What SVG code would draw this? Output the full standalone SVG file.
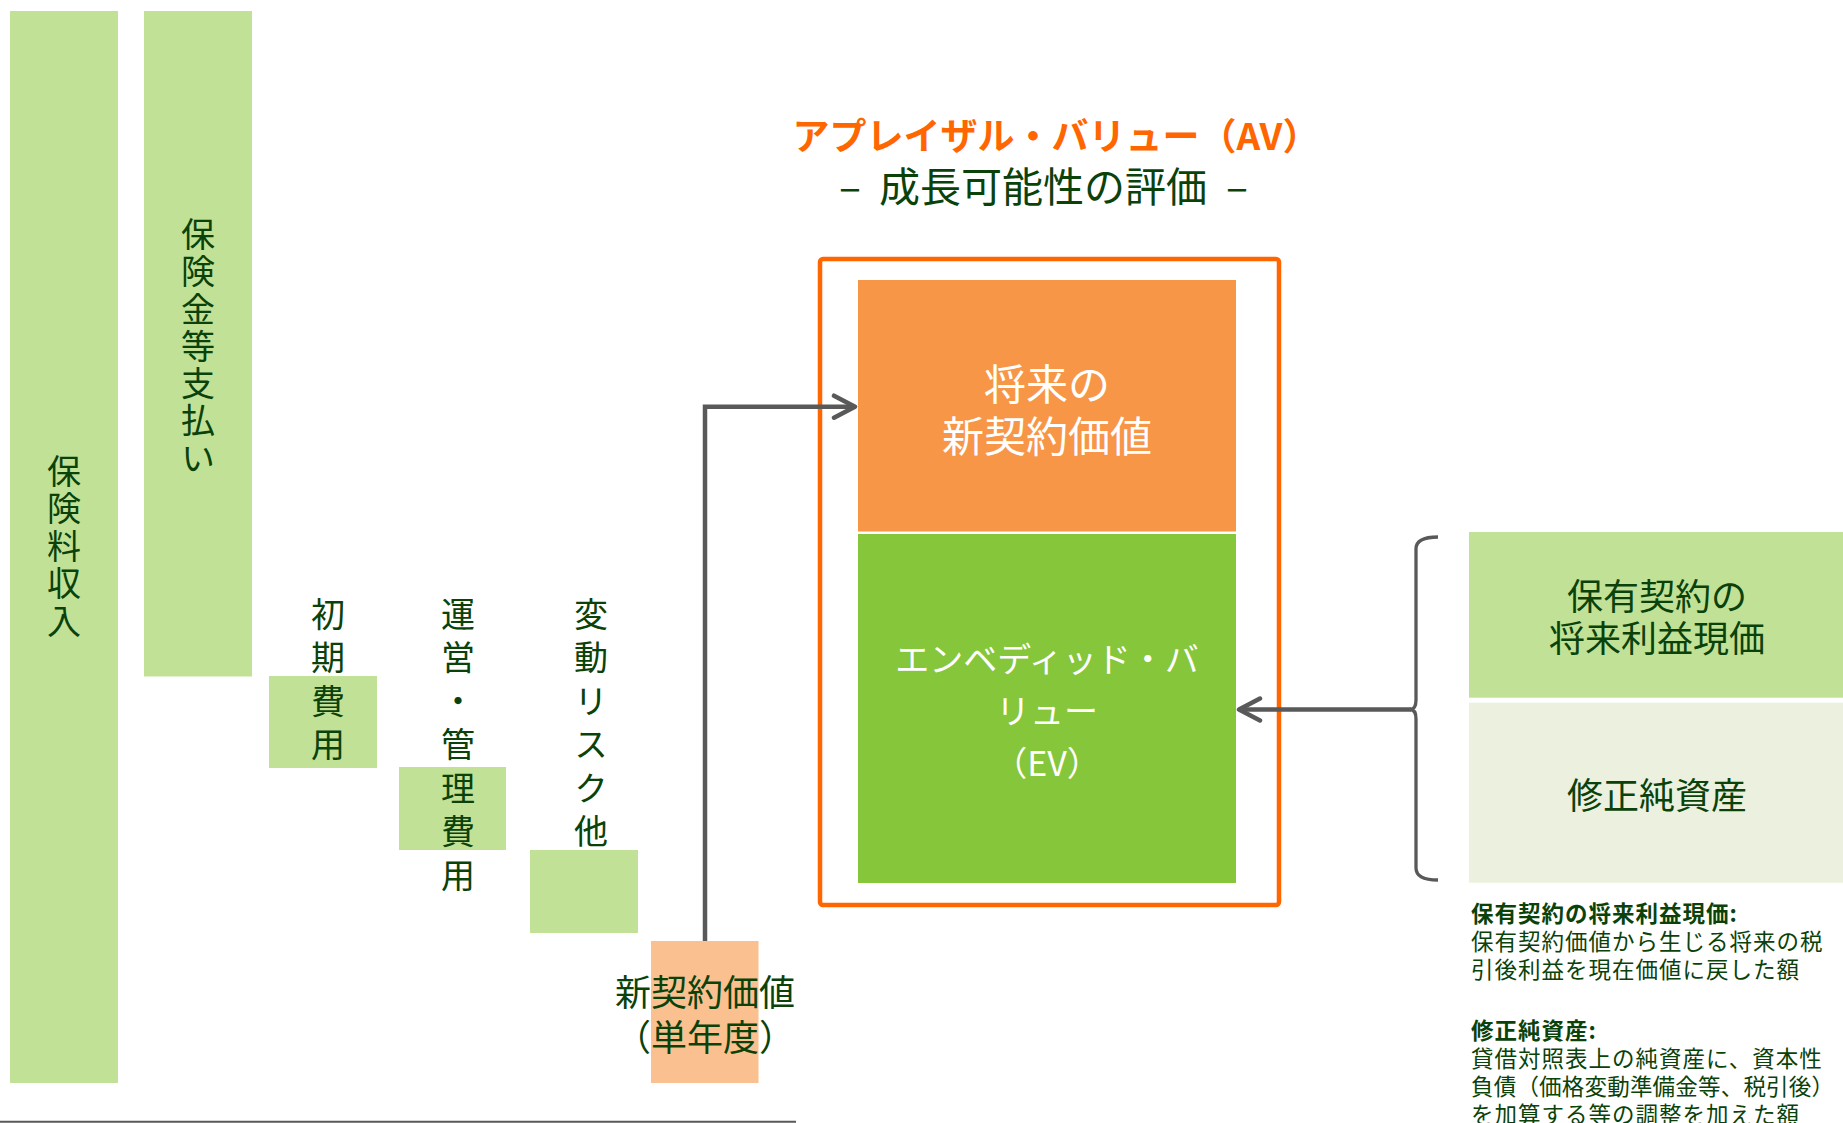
<svg xmlns="http://www.w3.org/2000/svg" width="1843" height="1123" viewBox="0 0 1843 1123">
<style>
.t{font-family:"Noto Sans CJK JP","Noto Sans",sans-serif;fill:#0A420A}
.vt{font-size:34px;writing-mode:vertical-rl;text-anchor:start}
.w{fill:#FFFFFF}
.c{text-anchor:middle}
.lg{fill:#C0E196}
.cn{fill:none;stroke:#595959;stroke-width:4.5}
</style>
<defs>
<marker id="ah" markerUnits="userSpaceOnUse" markerWidth="30" markerHeight="30" refX="24" refY="14" orient="auto">
<path d="M3,3 L24,14 L3,25" fill="none" stroke="#595959" stroke-width="4.5" stroke-linecap="round" stroke-linejoin="round"/>
</marker>
</defs>
<rect width="1843" height="1123" fill="#FFFFFF"/>

<g id="premium">
<rect class="lg" x="10" y="11" width="108" height="1072"/>
<text class="t vt" x="64" y="454" letter-spacing="3.5">保険料収入</text>
</g>

<g id="claims">
<rect class="lg" x="144" y="11" width="108" height="665.5"/>
<text class="t vt" x="198" y="217" letter-spacing="3.3">保険金等支払い</text>
</g>

<g id="initial-cost">
<rect class="lg" x="269" y="676" width="108" height="92"/>
<text class="t vt" x="328" y="597" letter-spacing="9.5">初期費用</text>
</g>

<g id="admin-cost">
<rect class="lg" x="399" y="767" width="107" height="83"/>
<text class="t vt" x="458" y="597" letter-spacing="9.5">運営・管理費用</text>
</g>

<g id="risk">
<rect class="lg" x="530" y="850" width="108" height="83"/>
<text class="t vt" x="591" y="597" letter-spacing="9.5">変動リスク他</text>
</g>

<g id="new-business-value">
<rect x="651" y="941" width="107.5" height="142" fill="#FAC090"/>
<text class="t c" font-size="36"><tspan x="705" y="1006">新契約価値</tspan><tspan x="705" y="1051">（単年度）</tspan></text>
</g>

<g id="baseline">
<line x1="0" y1="1121.8" x2="796" y2="1121.8" stroke="#595959" stroke-width="2"/>
</g>

<g id="title">
<text class="c" x="1056" y="150" font-size="37" font-weight="bold" fill="#FF6600" font-family="'Noto Sans CJK JP','Noto Sans',sans-serif">アプレイザル・バリュー（AV）</text>
<text class="t" font-size="41"><tspan x="850" y="201.5" text-anchor="middle">–</tspan><tspan x="1043" y="201.5" text-anchor="middle">成長可能性の評価</tspan><tspan x="1237" y="201.5" text-anchor="middle">–</tspan></text>
</g>

<g id="av-frame">
<rect x="820" y="259" width="459" height="646" rx="3" fill="none" stroke="#FF6600" stroke-width="4.5"/>
</g>

<g id="future-nbv">
<rect x="858" y="280" width="378" height="251.5" fill="#F79646"/>
<text class="t w c" font-size="42"><tspan x="1047" y="400">将来の</tspan><tspan x="1047" y="451.5">新契約価値</tspan></text>
</g>

<g id="ev">
<rect x="858" y="534" width="378" height="349" fill="#85C63B"/>
<text class="t w c" font-size="34"><tspan x="1047" y="672">エンベディッド・バ</tspan><tspan x="1047" y="724">リュー</tspan><tspan x="1047" y="776">（EV）</tspan></text>
</g>

<g id="vif">
<rect x="1469" y="532" width="374" height="165.7" fill="#C0E196"/>
<text class="t c" font-size="36"><tspan x="1657" y="610">保有契約の</tspan><tspan x="1657" y="652">将来利益現価</tspan></text>
</g>

<g id="adjusted-net-worth">
<rect x="1469" y="702.7" width="374" height="180" fill="#EBF1DE"/>
<text class="t c" font-size="36" x="1657" y="808.5">修正純資産</text>
</g>

<g id="notes">
<text class="t" font-size="22.5" letter-spacing="1">
<tspan x="1471" y="922" font-weight="bold">保有契約の将来利益現価:</tspan>
<tspan x="1471" y="950">保有契約価値から生じる将来の税</tspan>
<tspan x="1471" y="978">引後利益を現在価値に戻した額</tspan>
<tspan x="1471" y="1038.5" font-weight="bold">修正純資産:</tspan>
<tspan x="1471" y="1066.5">貸借対照表上の純資産に、資本性</tspan>
<tspan x="1471" y="1094.5" letter-spacing="0.2">負債（価格変動準備金等、税引後）</tspan>
<tspan x="1471" y="1123">を加算する等の調整を加えた額</tspan>
</text>
</g>

<g id="connectors">
<path class="cn" d="M705,941 L705,406.7 L855,406.7" marker-end="url(#ah)"/>
<path d="M1438,537 Q1416,537 1416,549 L1416,700 Q1416,709.5 1410,709.5 Q1416,709.5 1416,719 L1416,868 Q1416,880 1438,880" fill="none" stroke="#595959" stroke-width="3.3"/>
<path class="cn" d="M1411,709.5 L1239,709.5" marker-end="url(#ah)"/>
</g>
</svg>
